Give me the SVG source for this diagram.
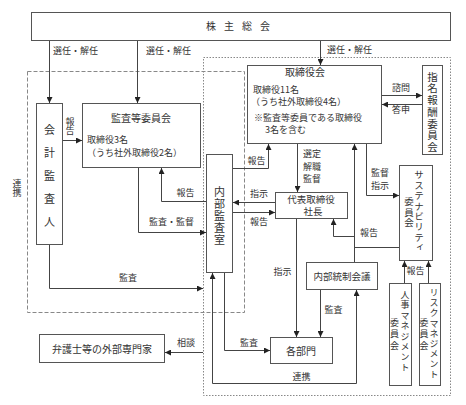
<svg xmlns="http://www.w3.org/2000/svg" width="466" height="405" viewBox="0 0 466 405">
<style>
text{font-family:"Noto Sans CJK JP","Noto Sans CJK SC",sans-serif;fill:#333;}
.lbl{font-size:9px;}
.lc{font-size:9px;text-anchor:middle;}
.bt{font-size:10px;}
.bs{font-size:9px;}
.bc{font-size:10px;text-anchor:middle;}
.bsc{font-size:9.5px;text-anchor:middle;}
.v{writing-mode:vertical-rl;}
.box{fill:#fff;stroke:#555;stroke-width:1;}
.cn{fill:none;stroke:#444;stroke-width:1;}
.dash{fill:none;stroke:#888;stroke-width:1;stroke-dasharray:4 2;}
.dot{fill:none;stroke:#888;stroke-width:1;stroke-dasharray:1.5 1.5;}
</style>
<defs>
<marker id="ah" markerUnits="userSpaceOnUse" markerWidth="7" markerHeight="6" refX="6" refY="3" orient="auto-start-reverse">
<path d="M0,0 L6,3 L0,6 z" fill="#222"/>
</marker>
</defs>
<rect width="466" height="405" fill="#fff"/>
<g id="regions">
<rect class="dash" x="27.5" y="71.5" width="217" height="241"/>
<rect class="dot" x="203.5" y="57.5" width="247" height="338"/>
</g>
<g id="connectors">
<path class="cn" d="M49.5,40 V103" marker-end="url(#ah)"/>
<path class="cn" d="M137.5,40 V103" marker-end="url(#ah)"/>
<path class="cn" d="M320.5,40 V65" marker-end="url(#ah)"/>
<path class="cn" d="M63,140.5 H82" marker-end="url(#ah)"/>
<path class="cn" d="M206,201.5 H161.5 V168" marker-end="url(#ah)"/>
<path class="cn" d="M138.5,168 V232.5 H206" marker-end="url(#ah)"/>
<path class="cn" d="M49.5,245 V288.5 H203" marker-end="url(#ah)"/>
<path class="cn" d="M203,352.5 H165" marker-end="url(#ah)"/>
<path class="cn" d="M233,168.5 H268.5 V144" marker-end="url(#ah)"/>
<path class="cn" d="M275,202.5 H233" marker-end="url(#ah)"/>
<path class="cn" d="M233,212.5 H275" marker-end="url(#ah)"/>
<path class="cn" d="M297.5,144 V192" marker-end="url(#ah)"/>
<path class="cn" d="M366.5,144 V195.5 H399" marker-end="url(#ah)"/>
<path class="cn" d="M354.5,262 V144" marker-end="url(#ah)"/>
<path class="cn" d="M354.5,236.5 H333.5 V219" marker-end="url(#ah)"/>
<path class="cn" d="M399,247.5 H354.5"/>
<path class="cn" d="M382,95.5 H422" marker-end="url(#ah)"/>
<path class="cn" d="M422,104.5 H382" marker-end="url(#ah)"/>
<path class="cn" d="M296.5,219 V337" marker-end="url(#ah)"/>
<path class="cn" d="M320.5,290 V337" marker-end="url(#ah)"/>
<path class="cn" d="M224.5,273 V350.5 H270" marker-end="url(#ah)"/>
<path class="cn" d="M356.5,290 V383.5 H212.5 V273" marker-start="url(#ah)" marker-end="url(#ah)"/>
<path class="cn" d="M404.5,283 V261" marker-end="url(#ah)"/>
<path class="cn" d="M428.5,283 V261" marker-end="url(#ah)"/>
</g>
<g id="labels">
<text class="lbl" x="53" y="53.5">選任・解任</text>
<text class="lbl" x="146" y="53.5">選任・解任</text>
<text class="lbl" x="327" y="52.5">選任・解任</text>
<text class="lbl v" x="70" y="117">報告</text>
<text class="lbl v" x="17" y="179">連携</text>
<text class="lc" x="185.5" y="196">報告</text>
<text class="lc" x="171.5" y="225">監査・監督</text>
<text class="lc" x="128" y="281">監査</text>
<text class="lc" x="186" y="346">相談</text>
<text class="lc" x="256.5" y="164">報告</text>
<text class="lc" x="259" y="197">指示</text>
<text class="lc" x="259" y="225">報告</text>
<text class="lbl" x="303" y="157">選定</text>
<text class="lbl" x="303" y="169.5">解職</text>
<text class="lbl" x="303" y="182">監督</text>
<text class="lbl" x="371" y="176">監督</text>
<text class="lbl" x="371" y="188.5">指示</text>
<text class="lc" x="401" y="91">諮問</text>
<text class="lc" x="401" y="113">答申</text>
<text class="lc" x="369" y="236">報告</text>
<text class="lc" x="282.5" y="275">指示</text>
<text class="lc" x="333.5" y="313">監査</text>
<text class="lc" x="249" y="346">監査</text>
<text class="lc" x="301.5" y="380">連携</text>
<text class="lc" x="415.5" y="274">報告</text>
</g>
<g id="shareholders">
<rect class="box" x="31.5" y="12.5" width="419" height="28"/>
<text class="bt" x="206 224 242 260" y="30">株主総会</text>
</g>
<g id="auditor">
<rect class="box" x="36.5" y="103.5" width="26" height="141"/>
<text class="v" x="49.5" y="124.5" style="font-size:11px;letter-spacing:12px">会計監査人</text>
</g>
<g id="audit-committee">
<rect class="box" x="82.5" y="103.5" width="118" height="64"/>
<text class="bc" x="141" y="121.5">監査等委員会</text>
<text class="bs" x="87" y="142.5">取締役3名</text>
<text class="bs" x="87" y="155.5">（うち社外取締役2名）</text>
</g>
<g id="internal-audit">
<rect class="box" x="206.5" y="154.5" width="26" height="118"/>
<text class="v" x="219.5" y="186.5" style="font-size:11px;letter-spacing:1px">内部監査室</text>
</g>
<g id="board">
<rect class="box" x="247.5" y="65.5" width="134" height="78"/>
<text class="bc" x="305" y="75.5">取締役会</text>
<text class="bs" x="253" y="93">取締役11名</text>
<text class="bs" x="251" y="105">（うち社外取締役4名）</text>
<text class="bs" x="254" y="120.5">※監査等委員である取締役</text>
<text class="bs" x="265" y="133">3名を含む</text>
</g>
<g id="nomination">
<rect class="box" x="422.5" y="65.5" width="20" height="89"/>
<text class="v" x="432.5" y="71.5" style="font-size:10.5px;letter-spacing:1.2px">指名報酬委員会</text>
</g>
<g id="president">
<rect class="box" x="275.5" y="192.5" width="72" height="26"/>
<text class="bsc" x="311" y="202.5">代表取締役</text>
<text class="bsc" x="313" y="215">社長</text>
</g>
<g id="sustainability">
<rect class="box" x="399.5" y="165.5" width="33" height="95"/>
<text class="v" x="419" y="170" style="font-size:9.5px;letter-spacing:0.9px">サステナビリティ</text>
<text class="v" x="409" y="197" style="font-size:9.5px;letter-spacing:1px">委員会</text>
</g>
<g id="internal-control">
<rect class="box" x="306.5" y="262.5" width="71" height="27"/>
<text class="bc" x="342" y="279.5" style="font-size:9.5px">内部統制会議</text>
</g>
<g id="departments">
<rect class="box" x="270.5" y="337.5" width="62" height="26"/>
<text class="bc" x="301" y="354.5">各部門</text>
</g>
<g id="hr">
<rect class="box" x="389.5" y="283.5" width="22" height="102"/>
<text class="v" x="405" y="290" style="font-size:9px;letter-spacing:1.4px">人事マネジメント</text>
<text class="v" x="394.5" y="318" style="font-size:9px;letter-spacing:2.5px">委員会</text>
</g>
<g id="risk">
<rect class="box" x="419.5" y="283.5" width="21" height="102"/>
<text class="v" x="434" y="288" style="font-size:9px;letter-spacing:1.2px">リスクマネジメント</text>
<text class="v" x="424" y="318" style="font-size:9px;letter-spacing:2.5px">委員会</text>
</g>
<g id="experts">
<rect class="box" x="39.5" y="334.5" width="125" height="28"/>
<text class="bc" x="102" y="352.5">弁護士等の外部専門家</text>
</g>
</svg>
